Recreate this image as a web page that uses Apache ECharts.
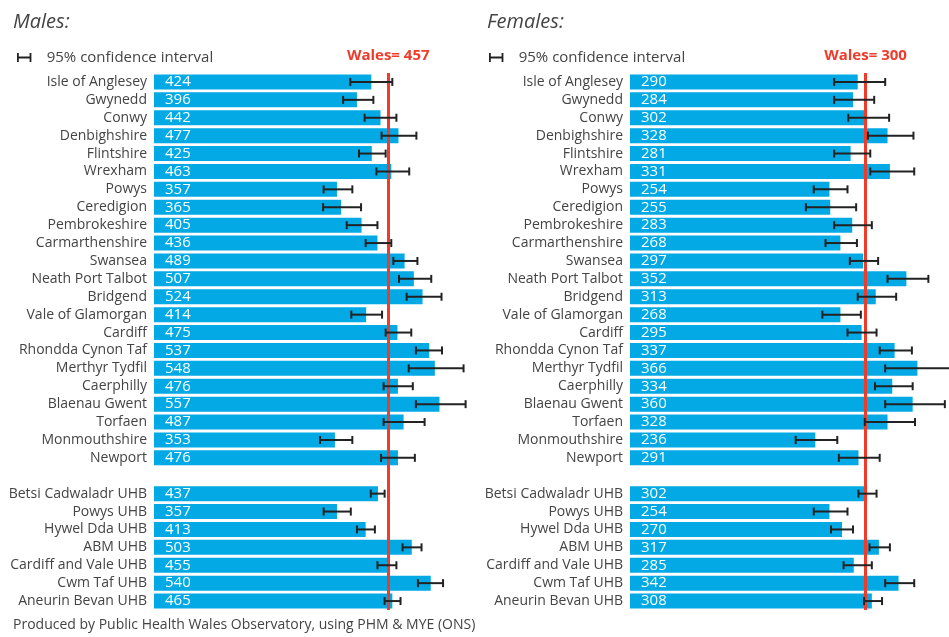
<!DOCTYPE html>
<html>
<head>
<meta charset="utf-8">
<script src="https://cdn.jsdelivr.net/npm/echarts@6/dist/echarts.min.js"></script>
<style>
  html, body { margin: 0; padding: 0; background: #fff; }
  #main { width: 949px; height: 637px; }
</style>
</head>
<body>
<div id="main"></div>
<script>
// areas (blank entry = gap between local authorities and health boards)
var areas = ['Isle of Anglesey', 'Gwynedd', 'Conwy', 'Denbighshire', 'Flintshire', 'Wrexham',
  'Powys', 'Ceredigion', 'Pembrokeshire', 'Carmarthenshire', 'Swansea', 'Neath Port Talbot',
  'Bridgend', 'Vale of Glamorgan', 'Cardiff', 'Rhondda Cynon Taf', 'Merthyr Tydfil',
  'Caerphilly', 'Blaenau Gwent', 'Torfaen', 'Monmouthshire', 'Newport', '',
  'Betsi Cadwaladr UHB', 'Powys UHB', 'Hywel Dda UHB', 'ABM UHB', 'Cardiff and Vale UHB',
  'Cwm Taf UHB', 'Aneurin Bevan UHB'];

var maleRate = [424, 396, 442, 477, 425, 463, 357, 365, 405, 436, 489, 507, 524, 414, 475, 537, 548, 476, 557, 487, 353, 476, null,
  437, 357, 413, 503, 455, 540, 465];
var maleLow = [383, 369, 411, 444, 400, 434, 331, 330, 376, 413, 467, 478, 493, 385, 452, 511, 497, 448, 511, 448, 324, 443, null,
  423, 331, 396, 485, 436, 515, 450];
var maleHigh = [465, 428, 473, 512, 452, 498, 387, 404, 436, 463, 514, 541, 561, 445, 502, 562, 604, 505, 608, 528, 387, 509, null,
  450, 384, 431, 522, 473, 564, 481];

var femaleRate = [290, 284, 302, 328, 281, 331, 254, 255, 283, 268, 297, 352, 313, 268, 295, 337, 366, 334, 360, 328, 236, 291, null,
  302, 254, 270, 317, 285, 342, 308];
var femaleLow = [260, 260, 278, 303, 260, 306, 234, 224, 260, 249, 280, 328, 290, 245, 277, 318, 325, 312, 325, 299, 211, 266, null,
  291, 234, 256, 305, 272, 325, 298];
var femaleHigh = [325, 311, 330, 361, 306, 362, 277, 288, 308, 289, 316, 380, 339, 294, 314, 359, 408, 360, 401, 363, 264, 318, null,
  314, 277, 284, 331, 308, 362, 321];

var walesMale = 457;
var walesFemale = 300;

var chart = echarts.init(document.getElementById('main'));

var barBlue = '#03a9e4';
var red = '#ee3b2a';
var textGrey = '#444';
var font = '"Open Sans", "Noto Sans", sans-serif';

function ciData(low, high) {
  var out = [];
  for (var i = 0; i < areas.length; i++) {
    if (low[i] != null) out.push([low[i], high[i], i]);
  }
  return out;
}

// draws the whisker: horizontal line with caps
function renderCI(params, api) {
  var cat = api.value(2);
  var p1 = api.coord([api.value(0), cat]);
  var p2 = api.coord([api.value(1), cat]);
  var h = 4;
  var st = { stroke: '#222', lineWidth: 2 };
  return {
    type: 'group',
    children: [
      { type: 'line', shape: { x1: p1[0], y1: p1[1], x2: p2[0], y2: p2[1] }, style: st },
      { type: 'line', shape: { x1: p1[0], y1: p1[1] - h, x2: p1[0], y2: p1[1] + h }, style: st },
      { type: 'line', shape: { x1: p2[0], y1: p2[1] - h, x2: p2[0], y2: p2[1] + h }, style: st }
    ]
  };
}

function barSeries(idx, data, wales) {
  return {
    type: 'bar',
    xAxisIndex: idx,
    yAxisIndex: idx,
    data: data,
    barWidth: 15,
    itemStyle: { color: barBlue },
    label: {
      show: true,
      position: 'insideLeft',
      distance: 11,
      color: '#fff',
      fontSize: 15,
      fontFamily: font
    },
    markLine: {
      silent: true,
      symbol: 'none',
      lineStyle: { color: red, width: 3, type: 'solid' },
      label: {
        show: true,
        position: 'start',
        distance: 10,
        formatter: 'Wales= ' + wales,
        color: red,
        fontWeight: 'bold',
        fontSize: 15,
        fontFamily: font
      },
      data: [{ xAxis: wales }]
    },
    z: 2
  };
}

function ciSeries(idx, low, high) {
  return {
    name: '95% confidence interval',
    type: 'custom',
    xAxisIndex: idx,
    yAxisIndex: idx,
    renderItem: renderCI,
    encode: { x: [0, 1], y: 2 },
    data: ciData(low, high),
    itemStyle: { color: '#222' },
    clip: false,
    z: 5
  };
}

var ciIcon = 'path://M0,0H2V4H14V0H16V10H14V6H2V10H0Z';

function legendAt(left) {
  return {
    left: left,
    top: 45,
    icon: ciIcon,
    itemWidth: 15,
    itemHeight: 9,
    data: ['95% confidence interval'],
    selectedMode: false,
    textStyle: { color: textGrey, fontSize: 15, fontFamily: font, padding: [0, 0, 0, 10] }
  };
}

function yAxis(idx) {
  return {
    type: 'category',
    gridIndex: idx,
    data: areas,
    inverse: true,
    axisLine: { show: false },
    axisTick: { show: false },
    axisLabel: { interval: 0, color: textGrey, fontSize: 14, fontFamily: font, margin: 7 }
  };
}

var option = {
  animation: false,
  title: [
    { text: 'Males:', left: 8, top: 7, textStyle: { fontStyle: 'italic', fontWeight: 'normal', fontSize: 20, color: textGrey, fontFamily: font } },
    { text: 'Females:', left: 482, top: 7, textStyle: { fontStyle: 'italic', fontWeight: 'normal', fontSize: 20, color: textGrey, fontFamily: font } },
    { text: 'Produced by Public Health Wales Observatory, using PHM & MYE (ONS)', left: 8, bottom: 0, textStyle: { fontWeight: 'normal', fontSize: 14, color: textGrey, fontFamily: font } }
  ],
  legend: [legendAt(12), legendAt(484)],
  grid: [
    { left: 154, top: 73, width: 328, height: 537 },
    { left: 630, top: 73, width: 318, height: 537 }
  ],
  xAxis: [
    { type: 'value', gridIndex: 0, min: 0, max: 640, show: false },
    { type: 'value', gridIndex: 1, min: 0, max: 405, show: false }
  ],
  yAxis: [yAxis(0), yAxis(1)],
  series: [
    barSeries(0, maleRate, walesMale),
    ciSeries(0, maleLow, maleHigh),
    barSeries(1, femaleRate, walesFemale),
    ciSeries(1, femaleLow, femaleHigh)
  ]
};

chart.setOption(option);
</script>
</body>
</html>
